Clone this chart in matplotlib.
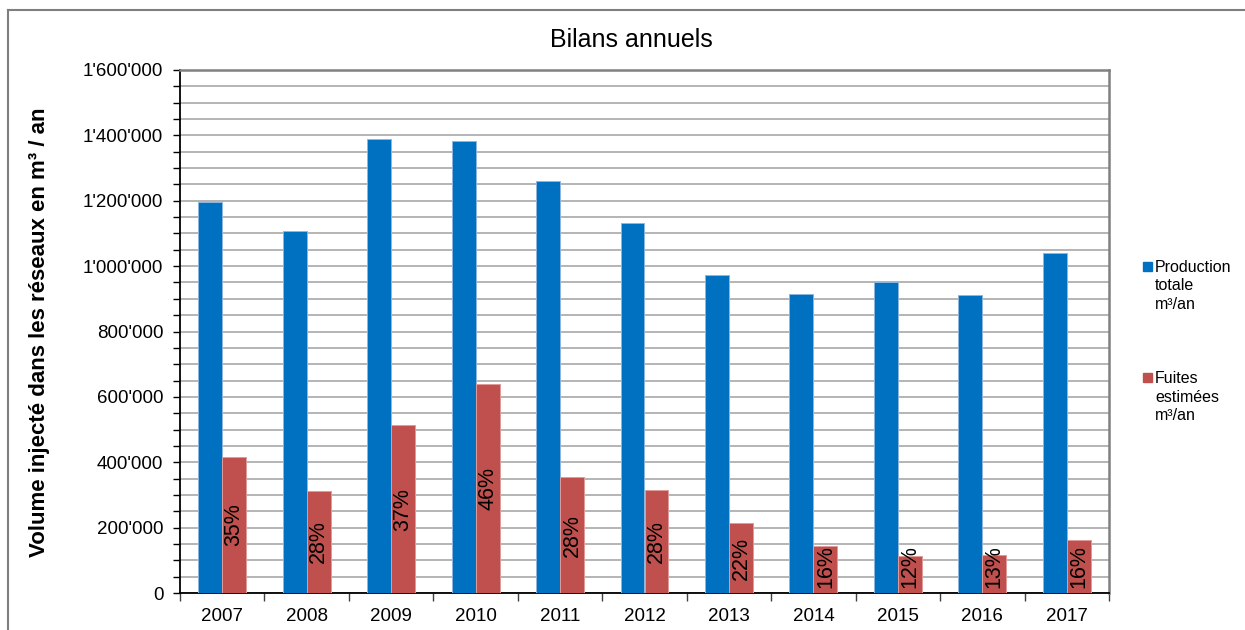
import matplotlib
matplotlib.use("Agg")
import matplotlib.pyplot as plt
from matplotlib.ticker import MultipleLocator, FuncFormatter
from matplotlib.lines import Line2D
import numpy as np

plt.rcParams['font.family'] = ['Liberation Sans', 'DejaVu Sans']

years = ['2007', '2008', '2009', '2010', '2011', '2012', '2013', '2014', '2015', '2016', '2017']
production = [1196000, 1108000, 1390000, 1384000, 1261000, 1131000, 973000, 914000, 950000, 912000, 1040000]
fuites = [416000, 312000, 513000, 638000, 354000, 314000, 213000, 145000, 114000, 117000, 163000]
pct_labels = ['35%', '28%', '37%', '46%', '28%', '28%', '22%', '16%', '12%', '13%', '16%']

legend_prod = 'Production\ntotale\nm³/an'
legend_fuites = 'Fuites\nestimées\nm³/an'
title = 'Bilans annuels'
ylabel = 'Volume injecté dans les réseaux en m³ / an'

blue = '#0070C0'
red = '#C0504D'

W, H = 1245, 630
fig = plt.figure(figsize=(W / 100, H / 100), dpi=100)
ax = fig.add_axes([180 / W, 1 - 593 / H, (1109 - 180) / W, (593 - 70) / H])

x = np.arange(len(years))
bw = 0.284
ax.bar(x - bw / 2, production, width=bw, color=blue, edgecolor='#8DB6DD', linewidth=0.7, zorder=3)
ax.bar(x + bw / 2, fuites, width=bw, color=red, edgecolor='#DE9B99', linewidth=0.7, zorder=3)

for xi, v, lab in zip(x, fuites, pct_labels):
    ax.text(xi + bw / 2, max(v / 2, 80000), lab, rotation=90, ha='center', va='center',
            fontsize=15.5, color='black', zorder=4)

ax.set_xlim(-0.5, len(years) - 0.5)
ax.set_ylim(0, 1600000)

ax.yaxis.set_major_locator(MultipleLocator(200000))
ax.yaxis.set_minor_locator(MultipleLocator(50000))
ax.yaxis.set_major_formatter(FuncFormatter(lambda v, p: f"{int(v):,}".replace(',', "'")))
ax.grid(axis='y', which='both', color='#A8A8A8', linewidth=1.2, zorder=0)
ax.set_axisbelow(True)

ax.set_xticks(x)
ax.set_xticklabels(years)
ax.set_xticks(np.arange(-0.5, len(years)), minor=True)
ax.tick_params(axis='x', which='major', length=0, pad=11, labelsize=13.5)
ax.tick_params(axis='x', which='minor', length=6, width=1, color='#404040')
ax.tick_params(axis='y', which='both', length=5, width=1, color='black', pad=7, labelsize=13.5)

for s in ['left', 'bottom']:
    ax.spines[s].set_color('black')
    ax.spines[s].set_linewidth(1.3)
for s in ['top', 'right']:
    ax.spines[s].set_color('#808080')
    ax.spines[s].set_linewidth(1.8)

fig.text(631 / W, 1 - 40 / H, title, ha='center', va='center', fontsize=18)
fig.text(40 / W, 1 - 332 / H, ylabel, rotation=90, ha='center', va='center',
         fontsize=16, fontweight='bold')

# legend drawn by hand on the right, one text line at a time
def legend_entry(ypix, color, label):
    fig.add_artist(plt.Rectangle((1143 / W, 1 - (ypix + 4.5) / H), 9 / W, 9 / H,
                                 transform=fig.transFigure, color=color))
    for k, line in enumerate(label.split('\n')):
        fig.text(1155 / W, 1 - (ypix + 18.5 * k) / H, line, ha='left', va='center_baseline',
                 fontsize=11.5)

legend_entry(266, blue, legend_prod)
legend_entry(377, red, legend_fuites)

# outer frame (top and left edges)
fig.add_artist(Line2D([8 / W, 1], [1 - 10 / H, 1 - 10 / H], transform=fig.transFigure,
                      color='#7F7F7F', linewidth=1.5))
fig.add_artist(Line2D([8 / W, 8 / W], [0, 1 - 10 / H], transform=fig.transFigure,
                      color='#7F7F7F', linewidth=1.5))

fig.savefig('out.png', dpi=100, facecolor='white')
